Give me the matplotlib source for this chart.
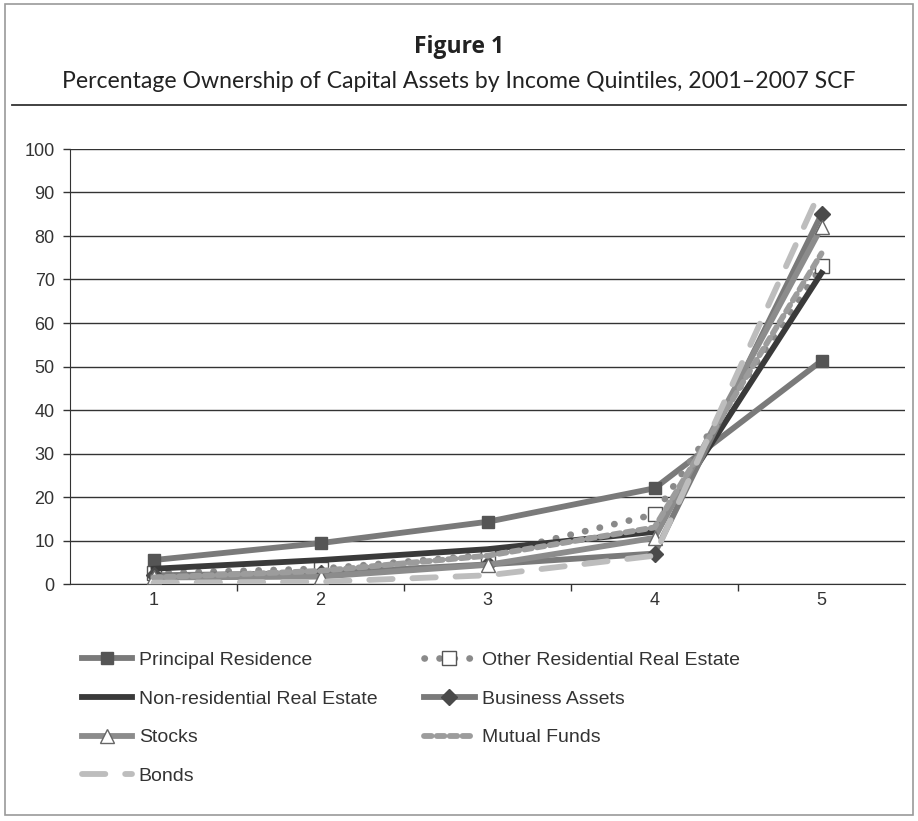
import matplotlib
matplotlib.use("Agg")
import matplotlib.pyplot as plt
from matplotlib.patches import Rectangle
from matplotlib.lines import Line2D

# Income quintiles and percentage owning each asset class
quintiles = [1, 2, 3, 4, 5]
principal_residence = [5.5, 9.4, 14.3, 22.0, 51.3]
other_residential = [2.5, 3.5, 6.7, 16.0, 73.0]
non_residential = [3.5, 5.5, 8.0, 12.0, 71.5]
business_assets = [2.0, 2.5, 4.5, 7.0, 85.0]
stocks = [1.5, 1.7, 4.4, 10.6, 82.0]
mutual_funds = [1.5, 3.0, 6.5, 13.0, 76.0]
bonds = [0.3, 0.5, 2.0, 6.5, 91.0]
y_ticks = [0, 10, 20, 30, 40, 50, 60, 70, 80, 90, 100]

W, H = 918, 821
fig = plt.figure(figsize=(W / 100, H / 100), dpi=100)
fig.patch.set_facecolor("white")

# outer frame and title rule
fig.add_artist(Rectangle((5 / W, 1 - 815 / H), 908 / W, 811 / H,
                         transform=fig.transFigure, fill=False,
                         edgecolor="#9a9a9a", lw=1.2))
fig.add_artist(Line2D([12 / W, 906 / W], [1 - 105 / H, 1 - 105 / H],
                      transform=fig.transFigure, color="#333333", lw=1.3))

fig.text(459 / W, 1 - 47 / H, "Figure 1", ha="center", va="center",
         fontsize=16.5, fontweight="bold", family=["Open Sans", "DejaVu Sans"],
         color="#222222", fontstretch="semi-condensed")
fig.text(459 / W, 1 - 82 / H,
         "Percentage Ownership of Capital Assets by Income Quintiles, 2001\u20132007 SCF",
         ha="center", va="center", fontsize=16.6, family=["Lato", "DejaVu Sans"],
         color="#222222")

ax = fig.add_axes([70 / W, 1 - 584 / H, 835 / W, 435 / H])
ax.set_xlim(0.5, 5.5)
ax.set_ylim(0, 100)

txt_font = ["Liberation Sans", "DejaVu Sans"]
lw = 4.2

ax.plot(quintiles, principal_residence, color="#7a7a7a", lw=lw,
        marker="s", markersize=9, markerfacecolor="#555555",
        markeredgecolor="#555555", label="Principal Residence", zorder=3)
ax.plot(quintiles, other_residential, color="#8a8a8a", lw=lw + 0.6,
        linestyle=(0, (0.05, 2.2)), dash_capstyle="round",
        marker="s", markersize=10, markerfacecolor="white",
        markeredgecolor="#555555", markeredgewidth=1.0,
        label="Other Residential Real Estate", zorder=3)
ax.plot(quintiles, non_residential, color="#3a3a3a", lw=lw,
        label="Non-residential Real Estate", zorder=3)
ax.plot(quintiles, business_assets, color="#7a7a7a", lw=lw,
        marker="D", markersize=8, markerfacecolor="#4a4a4a",
        markeredgecolor="#4a4a4a", label="Business Assets", zorder=3)
ax.plot(quintiles, stocks, color="#8c8c8c", lw=lw,
        marker="^", markersize=10, markerfacecolor="white",
        markeredgecolor="#666666", markeredgewidth=1.0,
        label="Stocks", zorder=3)
ax.plot(quintiles, mutual_funds, color="#9c9c9c", lw=lw,
        linestyle=(0, (1.3, 0.9)), dash_capstyle="round",
        label="Mutual Funds", zorder=3)
ax.plot(quintiles, bonds, color="#bdbdbd", lw=lw,
        linestyle=(0, (4.0, 3.4)), dash_capstyle="round",
        label="Bonds", zorder=3)

# axes styling
ax.set_yticks(y_ticks)
ax.set_xticks(quintiles)
ax.set_xticks([1.5, 2.5, 3.5, 4.5], minor=True)
ax.tick_params(axis="x", which="major", length=0, pad=6)
ax.tick_params(axis="x", which="minor", length=5, width=1, color="#333333",
               direction="out")
ax.tick_params(axis="y", length=5, width=1, color="#333333", direction="out",
               pad=6)
for lab in ax.get_xticklabels() + ax.get_yticklabels():
    lab.set_fontsize(13)
    lab.set_family(txt_font)
    lab.set_color("#333333")
ax.grid(axis="y", color="#333333", lw=1.0)
ax.set_axisbelow(True)
for side in ("top", "right"):
    ax.spines[side].set_visible(False)
ax.spines["left"].set_color("#333333")
ax.spines["bottom"].set_color("#333333")

handles, labels = ax.get_legend_handles_labels()
order = [0, 2, 4, 6, 1, 3, 5]
leg = fig.legend([handles[i] for i in order], [labels[i] for i in order],
                 ncol=2, frameon=False, loc="upper left",
                 bbox_to_anchor=(64 / W, 1 - 634 / H),
                 prop={"family": txt_font, "size": 14},
                 handlelength=2.6, handletextpad=0.35,
                 columnspacing=2.4, labelspacing=1.08)
for t in leg.get_texts():
    t.set_color("#333333")

fig.savefig("out.png", dpi=100, facecolor="white")
